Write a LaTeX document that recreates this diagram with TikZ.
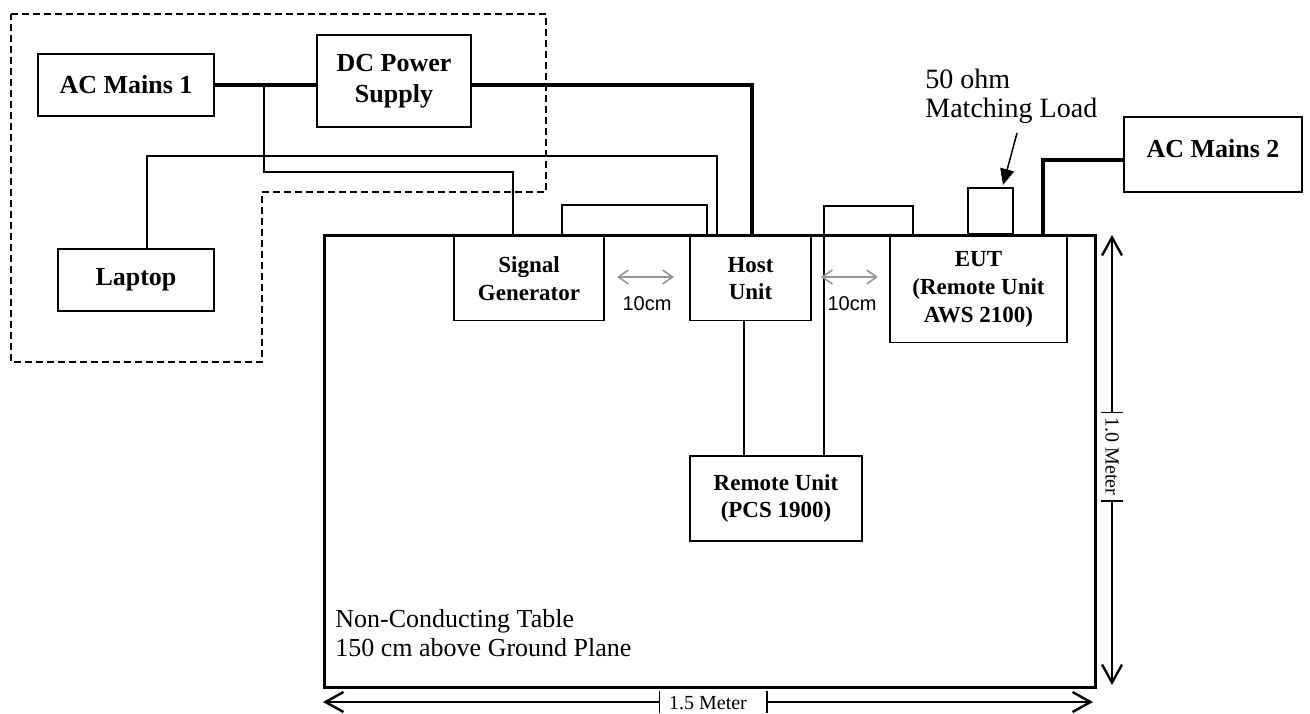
\documentclass[tikz,border=0pt]{standalone}
\usepackage{fontspec}
\setmainfont{Liberation Serif}
\setsansfont{Liberation Sans}
\usetikzlibrary{arrows.meta,positioning}
\definecolor{arrowgray}{RGB}{150,150,150}
\tikzset{
  unit/.style={draw,line width=0.75pt,align=center,inner sep=0pt,font=\bfseries\fontsize{11.5}{13.8}\selectfont},
  outer/.style={unit,font=\bfseries\fontsize{13}{15.6}\selectfont},
  cable/.style={line width=0.75pt},
  power/.style={line width=2pt},
  gap/.style={arrowgray,line width=0.8pt,{Straight Barb[length=5pt,width=7pt]}-{Straight Barb[length=5pt,width=7pt]}},
  dimtip/.style={line width=0.75pt},
  note/.style={inner sep=0pt,align=left}
}
\begin{document}
\begin{tikzpicture}[x=0.5pt,y=-0.5pt]
  \useasboundingbox (0,0) rectangle (1310,713);
  \draw[dash pattern=on 3.5pt off 2pt,line width=0.7pt] (11,14) -- (546,14) -- (546,192) -- (262,192) -- (262,362) -- (11,362) -- cycle;
  \node[draw,line width=1.5pt,minimum width=385.5pt,minimum height=226pt] (table) at (709.5,461) {};
  \node[outer,minimum width=88pt,minimum height=31pt] (acone) at (126,85) {AC Mains 1};
  \node[outer,minimum width=77pt,minimum height=46pt] (dcps) at (394,81) {DC Power\\Supply};
  \node[outer,minimum width=78pt,minimum height=31pt] (laptop) at (136,280) {Laptop};
  \node[outer,minimum width=89pt,minimum height=37.5pt,text depth=6pt] (actwo) at (1213,154.5) {AC Mains 2};
  \node[unit,minimum width=75pt,minimum height=42pt] (siggen) at (529,278.5) {Signal\\Generator};
  \node[unit,minimum width=60.5pt,minimum height=42pt] (host) at (750.5,278.5) {Host\\Unit};
  \node[unit,minimum width=88.5pt,minimum height=53pt] (eut) at (978.5,289.5) {EUT\\(Remote Unit\\AWS 2100)};
  \node[unit,minimum width=86pt,minimum height=42.5pt] (remote) at (776,498.5) {Remote Unit\\(PCS 1900)};
  \node[draw,line width=0.75pt,minimum width=22.5pt,minimum height=23pt,inner sep=0pt] (load) at (990.5,211) {};
  \node[note,anchor=north west,font=\fontsize{14}{14.5}\selectfont] (loadlbl) at (925,69) {50 ohm\\Matching Load};
  \node[note,anchor=north west,font=\fontsize{13}{14.5}\selectfont] (tablelbl) at (335,609) {Non-Conducting Table\\150 cm above Ground Plane};
  \node[inner sep=0pt,font=\sffamily\fontsize{10}{12}\selectfont] (gapone) at (647,304) {10cm};
  \node[inner sep=0pt,font=\sffamily\fontsize{10}{12}\selectfont] (gaptwo) at (852,304) {10cm};
  \node[inner sep=0pt,font=\fontsize{10}{12}\selectfont] (widthlbl) at (708,703.5) {1.5 Meter};
  \node[inner sep=0pt,rotate=-90,font=\fontsize{10}{12}\selectfont] (depthlbl) at (1112,456.5) {1.0 Meter};
  \coordinate (lapA) at (147,156);
  \coordinate (lapB) at (717,156);
  \coordinate (tapA) at (264,87);
  \coordinate (tapB) at (264,172);
  \coordinate (tapC) at (513,172);
  \coordinate (loopA) at (562,205);
  \coordinate (loopB) at (707,205);
  \coordinate (rfA) at (744,400);
  \coordinate (rfB) at (824,206);
  \coordinate (rfC) at (913,206);
  \coordinate (dcA) at (752,85);
  \coordinate (acA) at (1043,160);
  \coordinate (loadptr) at (1017,133);
  \coordinate (loadhit) at (1003,185);
  \coordinate (gapAl) at (617,277);
  \coordinate (gapAr) at (674,277);
  \coordinate (gapBl) at (821,277);
  \coordinate (gapBr) at (878,277);
  \coordinate (dimL) at (323,702);
  \coordinate (tickL) at (660,702);
  \coordinate (tickR) at (766,702);
  \coordinate (dimR) at (1093,702);
  \coordinate (dimT) at (1112,235);
  \coordinate (tickT) at (1112,413);
  \coordinate (tickB) at (1112,500);
  \coordinate (dimB) at (1112,685);
  \draw[power] (acone.east) -- (acone.east -| dcps.west);
  \draw[power] (dcA -| dcps.east) -- (dcA) -- (dcA |- host.north);
  \draw[power] (acA -| actwo.west) -- (acA) -- (acA |- eut.north);
  \draw[cable] (laptop.north -| lapA) -- (lapA) -- (lapB) -- (lapB |- host.north);
  \draw[cable] (tapA) -- (tapB) -- (tapC) -- (tapC |- siggen.north);
  \draw[cable] (loopA |- siggen.north) -- (loopA) -- (loopB) -- (loopB |- host.north);
  \draw[cable] (host.south -| rfA) -- (rfA |- remote.north);
  \draw[cable] (remote.north -| rfB) -- (rfB) -- (rfC) -- (rfC |- eut.north);
  \draw[cable,-{Triangle[length=8pt,width=7pt]}] (loadptr) -- (loadhit);
  \draw[gap] (gapAl) -- (gapAr);
  \draw[gap] (gapBl) -- (gapBr);
  \draw[dimtip,{Straight Barb[length=9pt,width=10pt,line width=1.2pt]}-{Bar[width=11pt]}] (dimL) -- (tickL);
  \draw[dimtip,{Bar[width=11pt]}-{Straight Barb[length=9pt,width=10pt,line width=1.2pt]}] (tickR) -- (dimR);
  \draw[dimtip,{Straight Barb[length=9pt,width=10pt,line width=1.2pt]}-{Bar[width=11pt]}] (dimT) -- (tickT);
  \draw[dimtip,{Bar[width=11pt]}-{Straight Barb[length=9pt,width=10pt,line width=1.2pt]}] (tickB) -- (dimB);
\end{tikzpicture}
\end{document}
